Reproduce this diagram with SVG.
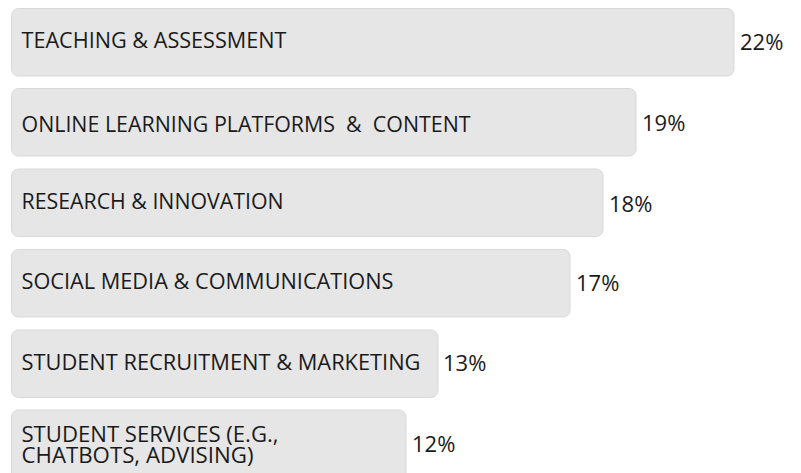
<svg xmlns="http://www.w3.org/2000/svg" width="801" height="473" viewBox="0 0 801 473">
<style>
.bar{fill:#e6e6e6;stroke:#d9d9d9;stroke-width:1}
.lbl{font-family:"Open Sans","Liberation Sans",sans-serif;font-size:22px;fill:#1a1a1a;white-space:pre}
.pct{font-family:"Open Sans","Liberation Sans",sans-serif;font-size:22px;fill:#1a1a1a}
</style>
<rect width="801" height="473" fill="#ffffff"/>
<g id="bar1">
<rect class="bar" x="11.5" y="8.5" width="722.5" height="67.5" rx="7"/>
<text class="lbl" x="21.5" y="47.5" textLength="265" lengthAdjust="spacingAndGlyphs">TEACHING &amp; ASSESSMENT</text>
<text class="pct" x="740" y="50">22%</text>
</g>
<g id="bar2">
<rect class="bar" x="11.5" y="88.5" width="624.5" height="67.5" rx="7"/>
<text class="lbl" x="21.5" y="132" textLength="449" lengthAdjust="spacingAndGlyphs" xml:space="preserve">ONLINE LEARNING PLATFORMS  &amp;  CONTENT</text>
<text class="pct" x="642" y="131">19%</text>
</g>
<g id="bar3">
<rect class="bar" x="11.5" y="169" width="591.5" height="67.5" rx="7"/>
<text class="lbl" x="21.5" y="209" textLength="262" lengthAdjust="spacingAndGlyphs">RESEARCH &amp; INNOVATION</text>
<text class="pct" x="609" y="211.5">18%</text>
</g>
<g id="bar4">
<rect class="bar" x="11.5" y="249.5" width="558.5" height="67.5" rx="7"/>
<text class="lbl" x="21.5" y="289" textLength="372" lengthAdjust="spacingAndGlyphs">SOCIAL MEDIA &amp; COMMUNICATIONS</text>
<text class="pct" x="576" y="290.5">17%</text>
</g>
<g id="bar5">
<rect class="bar" x="11.5" y="330" width="426.5" height="67.5" rx="7"/>
<text class="lbl" x="21.5" y="370" textLength="399" lengthAdjust="spacingAndGlyphs">STUDENT RECRUITMENT &amp; MARKETING</text>
<text class="pct" x="443" y="370.5">13%</text>
</g>
<g id="bar6">
<rect class="bar" x="11.5" y="410" width="394.5" height="80" rx="7"/>
<text class="lbl" x="21.5" y="441.5" textLength="257" lengthAdjust="spacingAndGlyphs">STUDENT SERVICES (E.G.,</text>
<text class="lbl" x="21.5" y="463" textLength="232" lengthAdjust="spacingAndGlyphs">CHATBOTS, ADVISING)</text>
<text class="pct" x="412" y="452">12%</text>
</g>
</svg>
